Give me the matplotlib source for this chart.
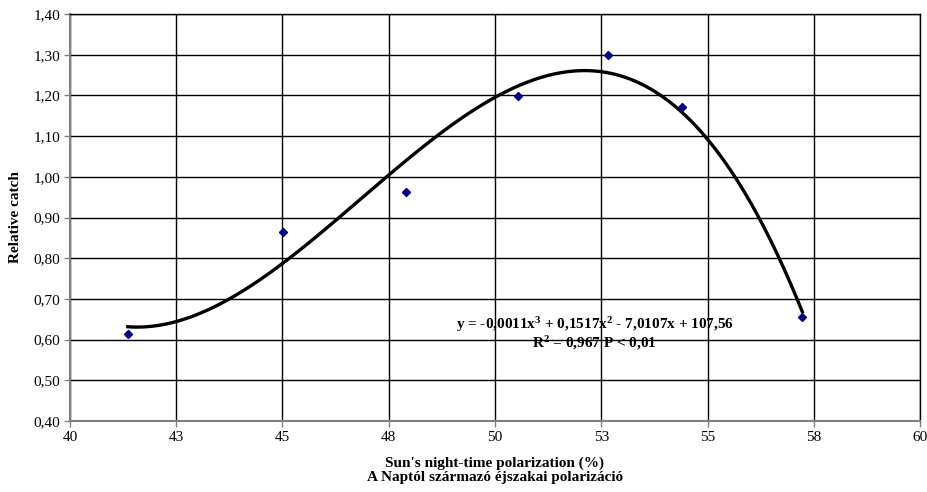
import math
import numpy as np
import matplotlib
matplotlib.use("Agg")
import matplotlib.pyplot as plt
from matplotlib.ticker import FuncFormatter, MultipleLocator

# polarization (%) vs relative catch
polarization = [41.36, 45.02, 47.90, 50.54, 52.67, 54.39, 57.23]
rel_catch = [0.613, 0.865, 0.963, 1.199, 1.300, 1.171, 0.655]

equation = "y = -0,0011x$^3$ + 0,1517x$^2$ - 7,0107x + 107,56"
r2_text = "R$^2$ = 0,967 P < 0,01"

plt.rcParams['font.family'] = ['Liberation Serif', 'DejaVu Serif']
plt.rcParams['mathtext.fontset'] = 'custom'
plt.rcParams['mathtext.rm'] = 'Liberation Serif:bold'
plt.rcParams['mathtext.it'] = 'Liberation Serif:bold'
plt.rcParams['mathtext.bf'] = 'Liberation Serif:bold'

fig = plt.figure(figsize=(9.28, 4.92), dpi=100)
ax = fig.add_axes([0.0754, 0.1443, 0.916, 0.8272])

# cubic trendline through the points
coef = np.polyfit(polarization, rel_catch, 3)
xs = np.linspace(min(polarization), max(polarization), 300)
ax.plot(xs, np.polyval(coef, xs), color='black', lw=2.4, zorder=3)

ax.plot(polarization, rel_catch, 'D', color='#000080', ms=4, zorder=4)

ax.set_xlim(40, 60)
ax.set_ylim(0.40, 1.40)
ax.xaxis.set_major_locator(MultipleLocator(2.5))
ax.yaxis.set_major_locator(MultipleLocator(0.1))
ax.xaxis.set_major_formatter(FuncFormatter(lambda v, p: str(int(math.floor(v + 0.5)))))
ax.yaxis.set_major_formatter(FuncFormatter(lambda v, p: f"{v:.2f}".replace('.', ',')))
ax.grid(True, color='black', lw=1.0)
ax.set_axisbelow(True)
ax.tick_params(direction='out', length=4, width=1, color='#808080', labelsize=11, pad=3)

for side in ['left', 'bottom']:
    ax.spines[side].set_color('#808080')
    ax.spines[side].set_linewidth(1.5)
for side in ['right', 'top']:
    ax.spines[side].set_color('black')
    ax.spines[side].set_linewidth(1.0)

ax.set_ylabel("Relative catch", fontsize=11, fontweight='bold', labelpad=8)
ax.set_xlabel("Sun's night-time polarization (%)\nA Naptól származó éjszakai polarizáció",
              fontsize=11, fontweight='bold', labelpad=9, linespacing=1.15)

ax.text(52.35, 0.636, equation, ha='center', va='center', fontsize=11, fontweight='bold')
ax.text(52.35, 0.592, r2_text, ha='center', va='center', fontsize=11, fontweight='bold')

fig.savefig("out.png", dpi=100)
